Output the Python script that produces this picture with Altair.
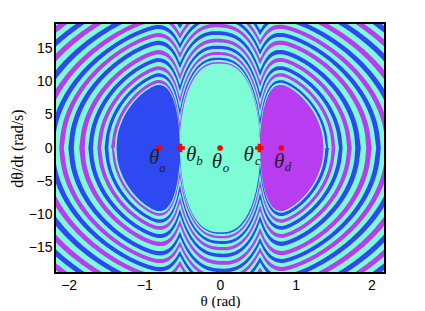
import altair as alt
import numpy as np
import pandas as pd

TEAL = "#7dfcd6"
BLUE = "#2e48f2"
MAGENTA = "#b83cf0"

# Squared crest height of each band of the upper half, read over the left and the right well
LEFT_LEVEL = [122, 146, 177, 210, 253, 292, 335, 384, 441, 506, 570, 640, 720, 800]
RIGHT_LEVEL = [101, 122, 146, 177, 210, 253, 292, 335, 384, 441, 506, 570, 640, 720]
BAND_COLOR = [BLUE, MAGENTA] * 7
# Innermost regions: magenta band + right basin, teal region, left basin
MAGENTA_REGION = (106, 91)
TEAL_REGION = (96, 89.5)
FIRST_BAND_LEVEL = 101
BASIN_LEVEL = 91
# Shape of the level curves
WELL_X = 0.82
SADDLE_X = 0.53
CENTER_DEPTH = -70
OUTER_GAIN = 210
OUTER_POWER = 1.39

CIRCLE_X = [-0.81, 0, 0.81]
CROSS_X = [-0.52, 0.52]
THETA_X = [-0.87, -0.38, -0.04, 0.38, 0.78]
THETA_Y = [-1.5, -1.1, -2.1, -1.1, -2.1]
SUB_X = [-0.76, -0.27, 0.08, 0.5, 0.9]
SUB_Y = [-3.0, -2.0, -3.0, -2.0, -2.9]
SUB_TEXT = ["a", "b", "o", "c", "d"]

X_DOMAIN = [-2.18, 2.18]
Y_DOMAIN = [-18.9, 18.9]
X_TICKS = [-2, -1, 0, 1, 2]
Y_TICKS = [-15, -10, -5, 0, 5, 10, 15]

grid = np.arange(-2.34, 2.34, 0.012)


def profile(x):
    a = np.abs(x)
    out = np.zeros_like(a)
    mid = a <= SADDLE_X
    out[mid] = CENTER_DEPTH + (BASIN_LEVEL - CENTER_DEPTH) * (a[mid] / SADDLE_X) ** 2.5
    side = (a > SADDLE_X) & (a <= WELL_X)
    out[side] = BASIN_LEVEL * ((WELL_X - a[side]) / (WELL_X - SADDLE_X)) ** 2.5
    far = a > WELL_X
    out[far] = OUTER_GAIN * (a[far] - WELL_X) ** OUTER_POWER
    return out


U = profile(grid)


def region(level_left, level_right, lower, keep_left_of=None):
    t = np.clip((grid + WELL_X) / (2 * WELL_X), 0, 1)
    level = level_left + (level_right - level_left) * t
    h = np.sqrt(np.clip(level - U, 0, None))
    if keep_left_of is not None:
        h[grid > keep_left_of] = 0
    x = grid
    if lower:
        x, h = -grid[::-1], -h[::-1]
    return pd.DataFrame({"x": np.round(x, 3), "y": np.round(h, 3), "y2": np.zeros_like(h)})


x_enc = alt.X(
    "x:Q",
    scale=alt.Scale(domain=X_DOMAIN, nice=False, zero=False),
    axis=alt.Axis(values=X_TICKS, title="θ (rad)", grid=False, tickSize=0, domain=False,
                  labelFont="Liberation Sans", labelFontSize=14, labelColor="black",
                  labelPadding=5, titleFont="Liberation Serif", titleFontSize=15,
                  titleFontWeight="normal", titleColor="black", titlePadding=1),
)
y_enc = alt.Y(
    "y:Q",
    scale=alt.Scale(domain=Y_DOMAIN, nice=False, zero=False),
    axis=alt.Axis(values=Y_TICKS, title="dθ/dt (rad/s)", grid=False, tickSize=0, domain=False,
                  labelFont="Liberation Sans", labelFontSize=14, labelColor="black",
                  labelPadding=3, titleFont="Liberation Serif", titleFontSize=16,
                  titleFontWeight="normal", titleColor="black", titlePadding=3),
)


def area(level_left, level_right, color, lower, keep=None):
    return alt.Chart(region(level_left, level_right, lower, keep)).mark_area(
        color=color, clip=True, opacity=1
    ).encode(x=x_enc, y=y_enc, y2="y2:Q")


SWAP = {BLUE: MAGENTA, MAGENTA: BLUE}
layers = [
    alt.Chart(pd.DataFrame({"x": X_DOMAIN, "y": [Y_DOMAIN[1]] * 2, "y2": [Y_DOMAIN[0]] * 2}))
    .mark_area(color=TEAL, clip=True)
    .encode(x=x_enc, y=y_enc, y2="y2:Q")
]

for lower in (False, True):
    n = len(LEFT_LEVEL)
    for k in range(n - 1, -1, -1):
        prev_l = LEFT_LEVEL[k - 1] if k else FIRST_BAND_LEVEL
        prev_r = RIGHT_LEVEL[k - 1] if k else MAGENTA_REGION[1]
        next_l = LEFT_LEVEL[k + 1] if k < n - 1 else LEFT_LEVEL[k] * 2 - prev_l
        next_r = RIGHT_LEVEL[k + 1] if k < n - 1 else RIGHT_LEVEL[k] * 2 - prev_r
        half_l = 0.25 * (next_l - prev_l) / 2
        half_r = 0.25 * (next_r - prev_r) / 2
        c = BAND_COLOR[k]
        if lower:
            c = SWAP[c]
        layers.append(area(LEFT_LEVEL[k] + half_l, RIGHT_LEVEL[k] + half_r, c, lower))
        layers.append(area(LEFT_LEVEL[k] - half_l, RIGHT_LEVEL[k] - half_r, TEAL, lower))
    layers.append(area(*MAGENTA_REGION, BLUE if lower else MAGENTA, lower))
    layers.append(area(*TEAL_REGION, TEAL, lower, SADDLE_X))
    layers.append(area(BASIN_LEVEL, BASIN_LEVEL, MAGENTA if lower else BLUE, lower, -SADDLE_X))

circles = alt.Chart(pd.DataFrame({"x": CIRCLE_X, "y": [0] * 3})).mark_point(
    shape="circle", filled=True, color="#ff0000", size=32, opacity=1
).encode(x=x_enc, y=y_enc)
crosses = alt.Chart(pd.DataFrame({"x": CROSS_X, "y": [0] * 2})).mark_point(
    shape="cross", filled=True, color="#ff0000", size=70, opacity=1
).encode(x=x_enc, y=y_enc)
thetas = alt.Chart(pd.DataFrame({"x": THETA_X, "y": THETA_Y, "t": ["θ"] * 5})).mark_text(
    font="Liberation Serif", fontStyle="italic", fontSize=21, color="#222222", align="center", baseline="middle"
).encode(x=x_enc, y=y_enc, text="t:N")
subs = alt.Chart(pd.DataFrame({"x": SUB_X, "y": SUB_Y, "t": SUB_TEXT})).mark_text(
    font="Liberation Serif", fontStyle="italic", fontSize=13, color="#222222", align="center", baseline="middle"
).encode(x=x_enc, y=y_enc, text="t:N")
frame = alt.Chart(pd.DataFrame({"a": [0]})).mark_rect(
    fill="transparent", stroke="black", strokeWidth=2
).encode(x=alt.value(0), x2=alt.value(330), y=alt.value(0), y2=alt.value(250))

chart = alt.layer(*layers, circles, crosses, thetas, subs, frame).properties(
    width=330,
    height=250,
    autosize="none",
    padding={"left": 47, "top": 15, "right": 20, "bottom": 35},
).configure_view(stroke=None)

chart.save("out.html", embed_options={"renderer": "svg", "actions": False})
